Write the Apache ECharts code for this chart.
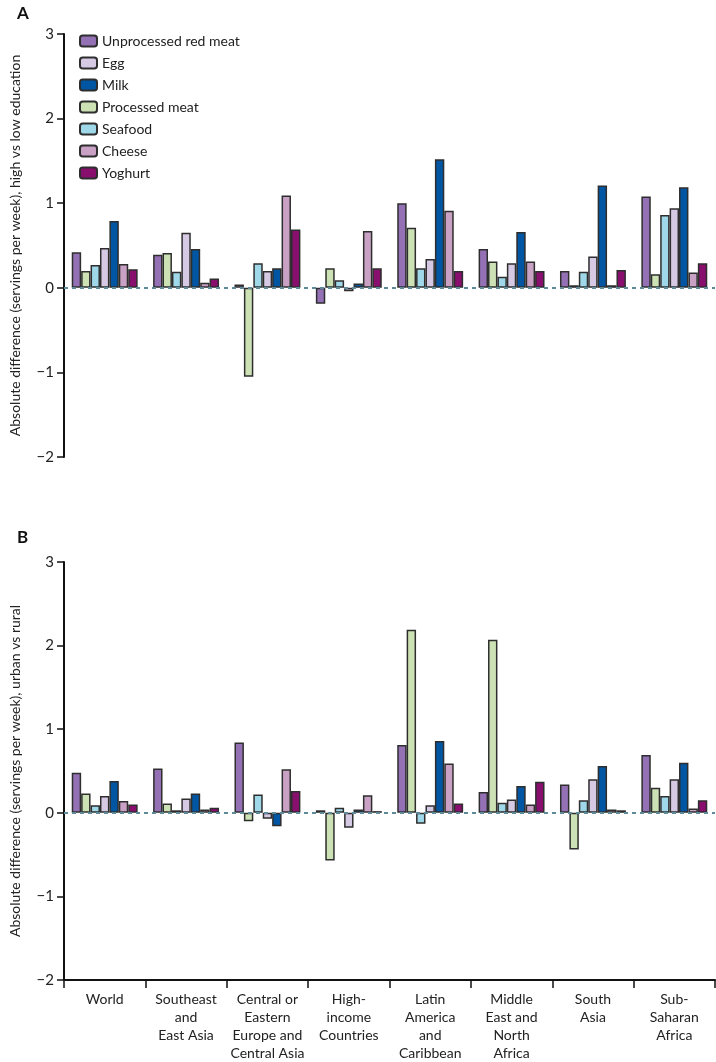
<!DOCTYPE html>
<html>
<head>
<meta charset="utf-8">
<script src="https://cdn.jsdelivr.net/npm/echarts@6/dist/echarts.min.js"></script>
<style>html,body{margin:0;padding:0;background:#fff}#c{width:716px;height:1062px}</style>
</head>
<body>
<div id="c"></div>
<script>
const categories = ['World', 'Southeast\nand\nEast Asia', 'Central or\nEastern\nEurope and\nCentral Asia', 'High-\nincome\nCountries', 'Latin\nAmerica\nand\nCaribbean', 'Middle\nEast and\nNorth\nAfrica', 'South\nAsia', 'Sub-\nSaharan\nAfrica'];
const seriesNames = ['Unprocessed red meat', 'Processed meat', 'Seafood', 'Egg', 'Milk', 'Cheese', 'Yoghurt'];
const legendOrder = ['Unprocessed red meat', 'Egg', 'Milk', 'Processed meat', 'Seafood', 'Cheese', 'Yoghurt'];
const colors = ['#9470b4', '#cce2b4', '#9fd8e9', '#d6c9e4', '#0056a2', '#c9a1c5', '#890f6f'];
const yTicks = [-2, -1, 0, 1, 2, 3];

// Panel A: high vs low education
const eduUnprocessed = [0.42, 0.39, 0.04, -0.19, 1.00, 0.46, 0.20, 1.08];
const eduProcessed   = [0.20, 0.41, -1.05, 0.23, 0.71, 0.31, 0.03, 0.16];
const eduSeafood     = [0.27, 0.19, 0.29, 0.09, 0.23, 0.13, 0.19, 0.86];
const eduEgg         = [0.47, 0.65, 0.20, -0.04, 0.34, 0.29, 0.37, 0.94];
const eduMilk        = [0.79, 0.46, 0.23, 0.05, 1.52, 0.66, 1.21, 1.19];
const eduCheese      = [0.28, 0.06, 1.09, 0.67, 0.91, 0.31, 0.03, 0.18];
const eduYoghurt     = [0.22, 0.11, 0.69, 0.23, 0.20, 0.20, 0.21, 0.29];

// Panel B: urban vs rural
const urbUnprocessed = [0.48, 0.53, 0.84, 0.03, 0.81, 0.25, 0.34, 0.69];
const urbProcessed   = [0.23, 0.11, -0.10, -0.57, 2.19, 2.07, -0.44, 0.30];
const urbSeafood     = [0.09, 0.03, 0.22, 0.06, -0.13, 0.12, 0.15, 0.20];
const urbEgg         = [0.20, 0.17, -0.07, -0.18, 0.09, 0.16, 0.40, 0.40];
const urbMilk        = [0.38, 0.23, -0.16, 0.04, 0.86, 0.32, 0.56, 0.60];
const urbCheese      = [0.14, 0.04, 0.52, 0.21, 0.59, 0.10, 0.04, 0.05];
const urbYoghurt     = [0.10, 0.06, 0.26, 0.02, 0.11, 0.37, 0.03, 0.15];

const eduData = [eduUnprocessed, eduProcessed, eduSeafood, eduEgg, eduMilk, eduCheese, eduYoghurt];
const urbData = [urbUnprocessed, urbProcessed, urbSeafood, urbEgg, urbMilk, urbCheese, urbYoghurt];

const FONT = 'Lato';
const fmt = v => (v < 0 ? '\u2212' + Math.abs(v) : String(v));

function yAxisDef(gridIndex, name) {
  return {
    type: 'value', gridIndex, min: yTicks[0], max: yTicks[yTicks.length - 1], interval: 1,
    name, nameLocation: 'middle', nameGap: 42,
    nameTextStyle: { fontFamily: FONT, fontSize: 14, color: '#222' },
    axisLine: { show: true, lineStyle: { color: '#111', width: 2 } },
    axisTick: { show: true, length: 7, lineStyle: { color: '#111', width: 1.5 } },
    axisLabel: { formatter: fmt, fontFamily: FONT, fontSize: 15, color: '#222', margin: 10 },
    splitLine: { show: false }
  };
}

function makeSeries(data, idx) {
  return data.map((vals, i) => {
    const s = {
      name: seriesNames[i], type: 'bar', xAxisIndex: idx, yAxisIndex: idx,
      data: vals, barGap: '0%', barCategoryGap: '19%',
      itemStyle: { color: colors[i], borderColor: '#2e2e2e', borderWidth: 1.5 },
      emphasis: { disabled: true }
    };
    if (i === 0) {
      s.markLine = {
        silent: true, symbol: 'none', label: { show: false },
        lineStyle: { type: [4, 4], color: '#5f8a9a', width: 2 },
        data: [{ yAxis: 0 }], z: 10
      };
    }
    return s;
  });
}

const chart = echarts.init(document.getElementById('c'), null, { renderer: 'canvas' });
chart.setOption({
  animation: false,
  backgroundColor: '#fff',
  title: [
    { text: 'A', left: 12, top: 0, textStyle: { fontFamily: FONT, fontSize: 17, fontWeight: 'bold', color: '#111' } },
    { text: 'B', left: 12, top: 524, textStyle: { fontFamily: FONT, fontSize: 17, fontWeight: 'bold', color: '#111' } }
  ],
  legend: {
    data: legendOrder, orient: 'vertical', left: 74, top: 29,
    itemWidth: 17, itemHeight: 11, itemGap: 8,
    textStyle: { fontFamily: FONT, fontSize: 14, color: '#222' },
    selectedMode: false
  },
  grid: [
    { left: 58, right: 1, top: 34, height: 423 },
    { left: 58, right: 1, top: 562, height: 421 }
  ],
  xAxis: [
    { type: 'category', gridIndex: 0, data: categories,
      axisLine: { show: false }, axisTick: { show: false }, axisLabel: { show: false } },
    { type: 'category', gridIndex: 1, data: categories,
      axisLine: { show: true, onZero: false, lineStyle: { color: '#111', width: 2 } },
      axisTick: { show: true, length: 8, interval: 0, lineStyle: { color: '#111', width: 1.5 } },
      axisLabel: { interval: 0, fontFamily: FONT, fontSize: 14, color: '#222', lineHeight: 18, margin: 10 } }
  ],
  yAxis: [
    yAxisDef(0, 'Absolute difference (servings per week), high vs low education'),
    yAxisDef(1, 'Absolute difference (servings per week), urban vs rural')
  ],
  series: [...makeSeries(eduData, 0), ...makeSeries(urbData, 1)]
});
</script>
</body>
</html>
